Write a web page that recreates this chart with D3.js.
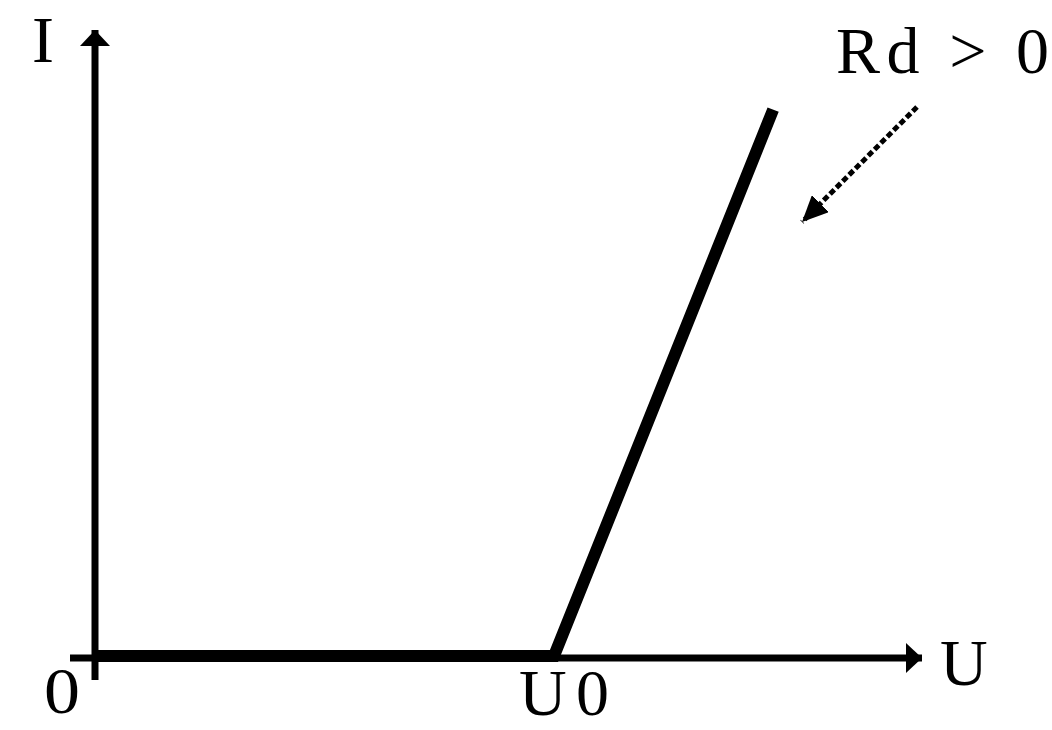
<!DOCTYPE html>
<html>
<head>
<meta charset="utf-8">
<script src="https://cdn.jsdelivr.net/npm/d3@7"></script>
<style>
  html, body { margin: 0; padding: 0; background: #fff; }
  text { font-family: "Liberation Serif", "Times New Roman", serif; fill: #000; }
</style>
</head>
<body>
<div id="chart"></div>
<script>
const width = 1052;
const height = 730;

// characteristic I(U): zero up to U0, then a straight rise (Rd > 0)
const voltage = [0, 5.55, 8.2];
const current = [0, 0, 8.7];
const axisLabels = ["I", "U"];
const pointLabels = ["0", "U0"];
const slopeLabel = "Rd > 0";

const x = d3.scaleLinear().domain([0, 10]).range([95, 922]);
const y = d3.scaleLinear().domain([0, 10]).range([658, 30]);

const svg = d3.select("#chart")
  .append("svg")
  .attr("width", width)
  .attr("height", height);

const defs = svg.append("defs");
function marker(id, len, wid) {
  defs.append("marker")
    .attr("id", id)
    .attr("viewBox", "0 0 10 10")
    .attr("preserveAspectRatio", "none")
    .attr("refX", 10).attr("refY", 5)
    .attr("markerWidth", len).attr("markerHeight", wid)
    .attr("markerUnits", "userSpaceOnUse")
    .attr("orient", "auto")
    .append("path")
    .attr("d", "M0,0L10,5L0,10Z")
    .attr("fill", "#000");
}
marker("head", 16, 30);
marker("head2", 26, 24);

// axes
svg.append("line")
  .attr("x1", x(0) - 25).attr("y1", y(0))
  .attr("x2", x(10)).attr("y2", y(0))
  .attr("stroke", "#000").attr("stroke-width", 7)
  .attr("marker-end", "url(#head)");

svg.append("line")
  .attr("x1", x(0)).attr("y1", y(0) + 22)
  .attr("x2", x(0)).attr("y2", y(10))
  .attr("stroke", "#000").attr("stroke-width", 7)
  .attr("marker-end", "url(#head)");

// characteristic
const line = d3.line()
  .x((d, i) => x(voltage[i]))
  .y((d, i) => y(current[i]));

svg.append("path")
  .attr("d", line(voltage))
  .attr("transform", "translate(0,-2)")
  .attr("fill", "none")
  .attr("stroke", "#000")
  .attr("stroke-width", 12)
  .attr("stroke-linejoin", "miter")
  .attr("stroke-linecap", "butt");

// dotted pointer to the slope
svg.append("line")
  .attr("x1", 917).attr("y1", 107)
  .attr("x2", 802).attr("y2", 222)
  .attr("stroke", "#000").attr("stroke-width", 5)
  .attr("stroke-dasharray", "6,3")
  .attr("marker-end", "url(#head2)");

// labels
const fs = 66;
svg.append("text").attr("x", 32).attr("y", 62)
  .attr("font-size", fs).text(axisLabels[0]);
svg.append("text").attr("x", 940).attr("y", 685)
  .attr("font-size", fs).text(axisLabels[1]);
svg.append("text").attr("x", 44).attr("y", 713)
  .attr("font-size", fs).attr("textLength", 36).attr("lengthAdjust", "spacingAndGlyphs")
  .text(pointLabels[0]);
svg.append("text").attr("x", 519).attr("y", 715)
  .attr("font-size", fs).attr("textLength", 90).attr("lengthAdjust", "spacing")
  .text(pointLabels[1]);
svg.append("text").attr("x", 836).attr("y", 73)
  .attr("xml:space", "preserve")
  .attr("font-size", fs).attr("textLength", 213).attr("lengthAdjust", "spacing")
  .text(slopeLabel);
</script>
</body>
</html>
